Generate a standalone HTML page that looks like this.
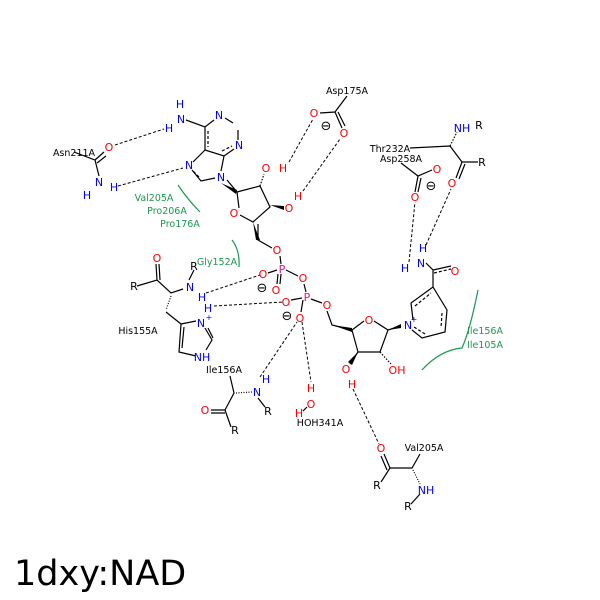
<!DOCTYPE html>
<html><head><style>html,body{margin:0;padding:0;background:#fff}svg{display:block}</style></head><body>
<svg width="600" height="600" viewBox="0 0 600 600" xmlns="http://www.w3.org/2000/svg" font-family="'DejaVu Sans','Liberation Sans',sans-serif">
<rect width="600" height="600" fill="#fff"/>
<g stroke="#000" stroke-width="1.2" fill="none">
<!-- adenine -->
<path d="M186,120 L205,127 L214,120 M225,118 L233,123 M238,130 L238,140 M234,149 L224,156 L205,150 L205,127 M224,156 L221,171 M205,150 L193,162 M192,170 L201,181 L215,178 M227,180 L237,192"/>
<path d="M208,131 L208,147 M222,151 L232,146 M199,177 L193,171" stroke-dasharray="3,2"/>
<!-- ribose1 -->
<path d="M237,192 L260,186 L270,207 L253,222 L240,215 M239,208 L237,192 M258,224 L258,240 L272,248"/>
<path d="M260,186 L264,174" stroke-dasharray="1.5,1.5"/>
<!-- phosphates -->
<path d="M280,256 L281,264 M286,270 L298,276 M304,284 L306,292 M311,299 L322,303 M327,311 L332,325 L352,330 M301,312 L303,300"/>
<path d="M268,273 L277,270 M291,300 L302,298 M278,274 L277,284 M281,274 L280,284" />
<!-- ribose2 -->
<path d="M352,330 L364,321 M374,321 L388,330 L380,352 L358,352 L352,330 M358,352 L350,364 M388,330 L401,326"/>
<path d="M380,352 L391,364" stroke-dasharray="1.5,1.5"/>
<!-- pyridine -->
<path d="M413,320 L411,303 L433,287 L447,310 L445,332 L422,338 L412,330 M433,287 L433,270 L451,266 M433,270 L426,263"/>
<path d="M415,306 L431,293 M442,313 L441,328 M425,334 L414,327 M434,273 L451,269" stroke-dasharray="3,2"/>
<!-- Asp175 -->
<path d="M347,96 L335,112 L320,113 M335,112 L342,128 M338,112 L345,126"/>
<!-- Asp258 / Thr232 -->
<path d="M401,163 L418,176 L432,170 M418,176 L415,192 M421,178 L418,192"/>
<path d="M410,148 L450,146 L462,162 L478,162 M462,162 L456,178 M465,164 L459,179"/>
<path d="M450,146 L457,132" stroke-dasharray="1.5,1.5"/>
<!-- Asn211 -->
<path d="M74,152 L95,160 L104,152 M97,163 L106,156 M95,160 L99,176"/>
<!-- His155 -->
<path d="M137,286 L157,280 L171,293 L183,289 M157,280 L156,264 M160,280 L159,264 M189,280 L194,270 M181,324 L196,321 M181,324 L179,352 L196,356 M184,327 L182,348 M205,328 L212,340 L206,350 M208,328 L213,338"/>
<path d="M166,312 L181,324" />
<path d="M171,296 L166,310" stroke-dasharray="1,1.5"/>
<!-- Ile156 -->
<path d="M230,376 L234,393 L225,410 L231,427 M225,410 L211,410 M225,413 L211,413"/>
<path d="M236,393 L252,392" stroke-dasharray="1,1.5"/>
<path d="M258,398 L265,407"/>
<!-- Val205 bottom -->
<path d="M420,454 L412,468 L390,468 L381,482 M390,468 L384,454 M387,470 L381,456"/>
<path d="M413,470 L420,484" stroke-dasharray="1,1.5"/>
<path d="M420,494 L411,504"/>
<!-- HOH -->
<path d="M307,407 L303,411"/>
</g>
<!-- wedges -->
<g fill="#000"><polygon points="221,183 237,190 236,194"/><polygon points="270,205 284,206 284,210"/><polygon points="253,222 256,240 260,240"/><polygon points="332,325 352,328 352,332"/><polygon points="358,352 348,362 352,365"/><polygon points="388,330 401,324 401,328"/></g>
<!-- H bonds -->
<g stroke="#000" stroke-width="1" stroke-dasharray="3,2" fill="none">
<path d="M115,145 L164,129 M118,186 L183,168 M289,162 L313,119 M303,191 L340,139 M206,293 L260,275 M214,306 L283,302 M260,377 L297,322 M302,322 L311,382 M409,262 L415,202 M426,245 L451,189 M353,389 L379,444"/>
</g>
<!-- hydrophobic arcs -->
<g stroke="#1a9850" stroke-width="1.2" fill="none"><path d="M178,185 Q188,200 200,212"/><path d="M232,240 Q240,250 239,267"/><path d="M422,370 Q440,350 462,348 Q470,330 478,290"/></g>
<g font-size="11" text-anchor="middle">
<g fill="#00f"><text x="180" y="108">H</text><text x="181" y="123">N</text><text x="169" y="132">H</text><text x="219" y="119">N</text><text x="239" y="149">N</text><text x="189" y="169">N</text><text x="221" y="181">N</text><text x="99" y="186">N</text><text x="87" y="199">H</text><text x="114" y="191">H</text><text x="190" y="291">N</text><text x="202" y="301">H</text><text x="208" y="312">H</text><text x="201" y="327">N</text><text x="202" y="361">NH</text><text x="408" y="329">N</text><text x="421" y="267">N</text><text x="405" y="272">H</text><text x="423" y="252">H</text><text x="266" y="383">H</text><text x="257" y="396">N</text><text x="462" y="132">NH</text><text x="426" y="494">NH</text></g>
<g fill="#00f" font-size="8"><text x="209" y="320">+</text><text x="414" y="322">+</text></g>
<g fill="#f00"><text x="266" y="172">O</text><text x="283" y="172">H</text><text x="289" y="212">O</text><text x="298" y="200">H</text><text x="234" y="217">O</text><text x="277" y="254">O</text><text x="263" y="278">O</text><text x="276" y="294">O</text><text x="303" y="282">O</text><text x="286" y="306">O</text><text x="300" y="322">O</text><text x="327" y="309">O</text><text x="369" y="324">O</text><text x="346" y="373">O</text><text x="352" y="388">H</text><text x="397" y="374">OH</text><text x="455" y="275">O</text><text x="314" y="117">O</text><text x="344" y="137">O</text><text x="437" y="173">O</text><text x="415" y="201">O</text><text x="452" y="187">O</text><text x="109" y="151">O</text><text x="157" y="262">O</text><text x="205" y="414">O</text><text x="311" y="392">H</text><text x="311" y="408">O</text><text x="299" y="417">H</text><text x="381" y="452">O</text></g>
<g fill="#e0109a"><text x="282" y="273">P</text><text x="307" y="301">P</text></g>
<g fill="#000"><text x="134" y="290">R</text><text x="194" y="270">R</text><text x="268" y="415">R</text><text x="235" y="434">R</text><text x="479" y="129">R</text><text x="482" y="166">R</text><text x="377" y="489">R</text><text x="408" y="510">R</text></g>
<g fill="#000" font-size="13"><text x="326" y="130">⊖</text><text x="431" y="190">⊖</text><text x="262" y="292">⊖</text><text x="287" y="320">⊖</text></g>
</g>
<g font-size="9.5" fill="#000" text-anchor="middle">
<text x="347" y="94">Asp175A</text><text x="390" y="152">Thr232A</text><text x="401" y="162">Asp258A</text><text x="74" y="156">Asn211A</text><text x="138" y="334">His155A</text><text x="224" y="373">Ile156A</text><text x="320" y="426">HOH341A</text><text x="424" y="451">Val205A</text>
</g>
<g font-size="9.5" fill="#1a9850" text-anchor="middle">
<text x="154" y="201">Val205A</text><text x="167" y="214">Pro206A</text><text x="180" y="227">Pro176A</text><text x="217" y="265">Gly152A</text><text x="485" y="334">Ile156A</text><text x="485" y="348">Ile105A</text>
</g>
<text x="14" y="585" font-size="35" fill="#000">1dxy:NAD</text>
</svg>
</body></html>
